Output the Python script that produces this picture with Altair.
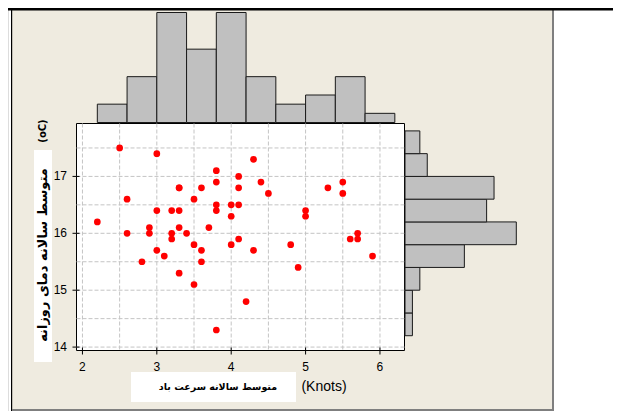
import altair as alt
import pandas as pd

# ---- data ----
wind = [2.5, 3.0, 4.3, 3.8, 4.1, 3.8, 4.4, 3.3, 3.3, 3.6,
        4.1, 5.3, 5.5, 5.5, 4.5, 2.6, 3.5, 3.8, 3.8, 4.0,
        4.1, 4.0, 3.0, 3.2, 3.3, 5.0, 5.0, 2.2, 2.9, 2.9,
        2.6, 3.2, 3.2, 3.3, 3.4, 3.7, 4.0, 4.1, 3.5, 3.6,
        3.6, 4.3, 3.0, 3.1, 2.8, 3.3, 3.5, 4.2, 3.8, 4.8,
        4.9, 5.6, 5.7, 5.7, 5.9]
temp = [17.5, 17.4, 17.3, 17.1, 17.0, 16.9, 16.9, 16.8, 16.8, 16.8,
        16.8, 16.8, 16.9, 16.7, 16.7, 16.6, 16.6, 16.5, 16.4, 16.5,
        16.5, 16.3, 16.4, 16.4, 16.4, 16.4, 16.3, 16.2, 16.1, 16.0,
        16.0, 16.0, 15.9, 16.1, 16.0, 16.1, 15.8, 15.9, 15.8, 15.7,
        15.5, 15.7, 15.7, 15.6, 15.5, 15.3, 15.1, 14.8, 14.3, 15.8,
        15.4, 15.9, 16.0, 15.9, 15.6]

wind_edges = [2.2, 2.6, 3.0, 3.4, 3.8, 4.2, 4.6, 5.0, 5.4, 5.8, 6.2]
temp_edges = [14.2, 14.6, 15.0, 15.4, 15.8, 16.2, 16.6, 17.0, 17.4, 17.8]

x_ticks = [2, 3, 4, 5, 6]
y_ticks = [14, 15, 16, 17]
x_grid = [2, 2.5, 3, 3.5, 4, 4.5, 5, 5.5, 6]
y_grid = [14, 14.5, 15, 15.5, 16, 16.5, 17, 17.5]

x_title = "متوسط سالانه سرعت باد"
x_unit = "(Knots)"
y_title = "متوسط سالانه دمای روزانه"
y_unit = "(oC)"

# ---- tables ----
pts = pd.DataFrame({"wind": wind, "temp": temp})


def counts(values, edges):
    step = round((edges[1] - edges[0]) * 10)
    start = round(edges[0] * 10)
    c = [0] * (len(edges) - 1)
    for v in values:
        i = (round(v * 10) - start) // step
        if 0 <= i < len(c):
            c[i] += 1
    return c


wh = pd.DataFrame({"lo": wind_edges[:-1], "hi": wind_edges[1:],
                   "n": counts(wind, wind_edges)})
th = pd.DataFrame({"lo": temp_edges[:-1], "hi": temp_edges[1:],
                   "n": counts(temp, temp_edges)})
xt_df = pd.DataFrame({"v": x_ticks, "t": [str(v) for v in x_ticks]})
yt_df = pd.DataFrame({"v": y_ticks, "t": [str(v) for v in y_ticks]})

W, H = 605, 403
XS = alt.Scale(domain=[1.92, 6.33], range=[68.5, 396.5], nice=False, zero=False)
YS = alt.Scale(domain=[13.94, 17.93], range=[342.5, 115.5], nice=False, zero=False)
TOPY = alt.Scale(domain=[0, 12], range=[114.5, 4.5], nice=False, zero=True)
RIGHTX = alt.Scale(domain=[0, 15], range=[397, 508.3], nice=False, zero=True)

one = pd.DataFrame({"a": [0]})
BEIGE = "#EFEBE0"


def box(x, x2, y, y2, **kw):
    return alt.Chart(one).mark_rect(**kw).encode(
        x=alt.value(x), x2=alt.value(x2), y=alt.value(y), y2=alt.value(y2))


def label(x, y, text, **kw):
    return alt.Chart(one).mark_text(text=text, align="center", baseline="middle",
                                    color="black", **kw).encode(
        x=alt.value(x), y=alt.value(y))


bg = box(4, 544, 0, 402, color=BEIGE)
left_line = box(3, 4.2, 0, H, color="black")
right_line = box(544, 546, 0, H, color="#7F7F7F")
bottom_line = box(4, 546, 401, 403, color="#7F7F7F")
ybox = box(26, 44, 142, 354, color="white")
xbox = box(123, 288, 364, 394, color="white")
frame = box(68.5, 396.5, 115.5, 342.5, fill="white", stroke="black", strokeWidth=1)
top_line = box(0, W, 0, 2.5, color="black")

xgrid = alt.Chart(pd.DataFrame({"g": x_grid})).mark_rule(
    color="#C4C4C4", strokeDash=[4, 2], strokeWidth=1).encode(
    x=alt.X("g:Q", scale=XS, axis=None),
    y=alt.value(115.5), y2=alt.value(342.5))
ygrid = alt.Chart(pd.DataFrame({"g": y_grid})).mark_rule(
    color="#C4C4C4", strokeDash=[4, 2], strokeWidth=1).encode(
    y=alt.Y("g:Q", scale=YS, axis=None),
    x=alt.value(68.5), x2=alt.value(396.5))

xticks = alt.Chart(xt_df).mark_rule(color="black", strokeWidth=1).encode(
    x=alt.X("v:Q", scale=XS, axis=None), y=alt.value(339.5), y2=alt.value(346.5))
yticks = alt.Chart(yt_df).mark_rule(color="black", strokeWidth=1).encode(
    y=alt.Y("v:Q", scale=YS, axis=None), x=alt.value(64.5), x2=alt.value(71.5))
xlabels = alt.Chart(xt_df).mark_text(font="Liberation Sans", fontSize=12, color="black",
                                     align="center", baseline="middle").encode(
    x=alt.X("v:Q", scale=XS, axis=None), y=alt.value(358.7), text="t:N")
ylabels = alt.Chart(yt_df).mark_text(font="Liberation Sans", fontSize=12, color="black",
                                     align="right", baseline="middle").encode(
    y=alt.Y("v:Q", scale=YS, axis=None), x=alt.value(59), text="t:N")

top_hist = alt.Chart(wh).mark_rect(fill="#C0C0C0", stroke="#1A1A1A", strokeWidth=1).encode(
    x=alt.X("lo:Q", scale=XS, axis=None), x2="hi:Q",
    y=alt.Y("n:Q", scale=TOPY, axis=None), y2=alt.datum(0))
right_hist = alt.Chart(th).mark_rect(fill="#C0C0C0", stroke="#1A1A1A", strokeWidth=1).encode(
    y=alt.Y("lo:Q", scale=YS, axis=None), y2="hi:Q",
    x=alt.X("n:Q", scale=RIGHTX, axis=None), x2=alt.datum(0))

points = alt.Chart(pts).mark_circle(color="#FF0000", opacity=1, size=45).encode(
    x=alt.X("wind:Q", scale=XS, axis=None),
    y=alt.Y("temp:Q", scale=YS, axis=None))

xt = label(210, 379, x_title, font="DejaVu Sans", fontSize=9.5, fontWeight="bold")
xu = label(316, 379, x_unit, font="Liberation Sans", fontSize=14)
yt = label(35, 247, y_title, font="DejaVu Sans", fontSize=13, fontWeight="bold", angle=270)
yu = label(35, 123, y_unit, font="DejaVu Sans", fontSize=10, fontWeight="bold", angle=270)

chart = alt.layer(
    bg, left_line, right_line, bottom_line, ybox, xbox, frame,
    xgrid, ygrid, xticks, yticks, xlabels, ylabels,
    top_hist, right_hist, points, xt, xu, yt, yu, top_line
).resolve_scale(x="independent", y="independent").properties(
    width=W, height=H, padding=0,
    autosize=alt.AutoSizeParams(type="none")
).configure_view(stroke=None).configure(background="white")

chart.save("out.html", embed_options={"renderer": "svg", "actions": False})
